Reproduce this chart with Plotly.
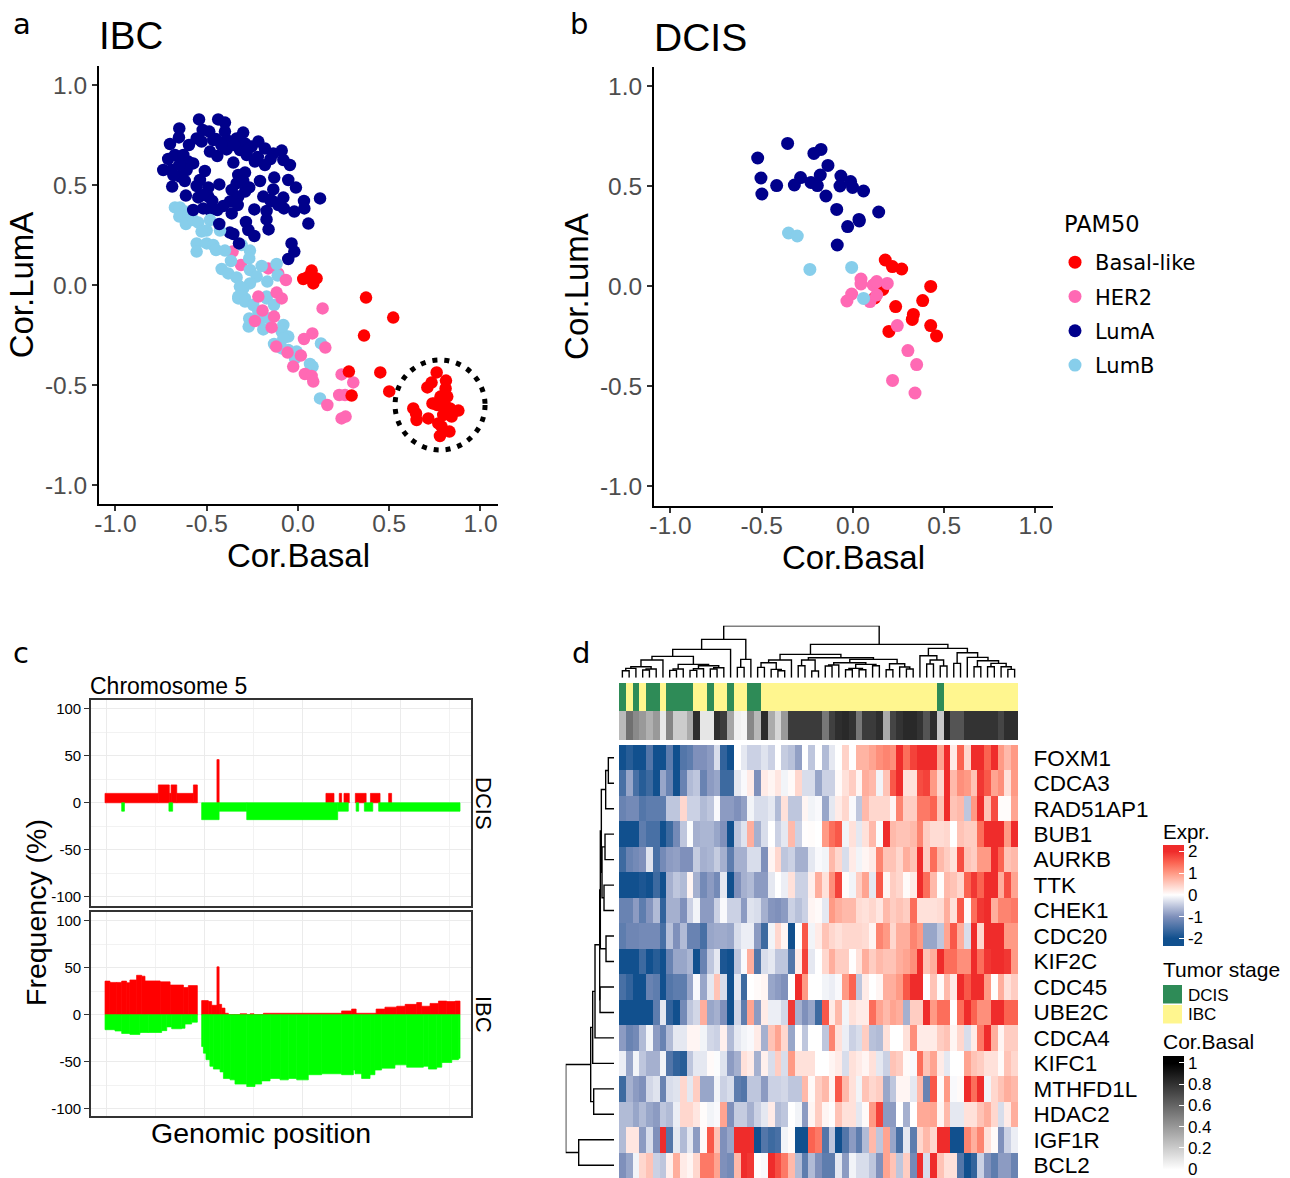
import plotly.graph_objects as go

W, H = 1290, 1178
SANS = "Liberation Sans"
DEJA = "DejaVu Sans"

# ---------- Panel a (IBC) ----------
a_luma_x = [-.542,-.437,-.400,-.650,-.652,-.701,-.597,-.522,-.486,-.555,-.528,-.464,-.400,-.391,-.300,-.336,-.290,-.217,-.254,-.181,-.089,-.135,-.482,-.442,-.391,-.318,-.281,-.236,-.181,-.080,-.044,-.354,-.711,-.674,-.628,-.601,-.574,-.738,-.692,-.647,-.683,-.610,-.510,-.537,-.555,-.689,-.290,-.327,-.336,-.208,-.130,-.053,-.011,-.431,-.363,-.267,-.290,-.491,-.614,-.546,-.491,-.327,-.373,-.409,-.442,-.363,-.519,-.482,-.190,-.135,-.153,-.080,-.108,-.077,-.020,.033,.035,.121,-.239,-.172,-.172,-.285,-.272,-.239,-.161,.057,-.373,-.354,-.035,-.020,-.053,-.45,-.42,-.35,-.28,-.22,-.15,-.65,-.62,-.52,-.47,-.30,-.33,-.14,-.574,-.431,-.323]
a_luma_y = [.828,.828,.812,.783,.738,.705,.700,.775,.767,.733,.717,.725,.767,.725,.762,.733,.708,.717,.692,.683,.672,.658,.667,.645,.678,.675,.650,.617,.600,.625,.600,.612,.630,.650,.650,.617,.608,.575,.575,.542,.550,.575,.570,.525,.495,.492,.562,.550,.508,.520,.537,.525,.487,.503,.475,.488,.467,.488,.447,.438,.442,.442,.417,.395,.375,.358,.383,.375,.442,.478,.425,.437,.400,.383,.367,.420,.383,.433,.378,.370,.328,.315,.275,.245,.278,.307,.262,.255,.208,.167,.130,.73,.70,.70,.67,.64,.63,.60,.52,.45,.42,.52,.40,.42,.375,.305,.208]
a_lumb_x = [-.674,-.647,-.619,-.650,-.601,-.614,-.574,-.546,-.482,-.500,-.528,-.427,-.555,-.500,-.464,-.555,-.449,-.400,-.367,-.263,-.267,-.309,-.418,-.382,-.336,-.263,-.199,-.117,-.111,-.168,-.226,-.263,-.300,-.327,-.172,-.290,-.318,-.327,-.290,-.245,-.217,-.267,-.208,-.270,-.190,-.172,-.131,-.163,-.080,-.089,-.053,-.080,-.131,.126,-.007,-.016,.066,.080,.121,-.053,-.089]
a_lumb_y = [.388,.388,.367,.342,.350,.305,.325,.312,.325,.272,.267,.272,.208,.208,.200,.167,.175,.172,.120,.172,.133,.200,.080,.058,.038,.075,.095,.105,.047,.017,.042,.008,-.017,-.067,-.058,-.067,-.008,-.058,-.083,-.100,-.133,-.167,-.175,-.208,-.222,-.067,-.100,-.167,-.200,-.233,-.258,-.267,-.295,-.292,-.333,-.367,-.395,-.408,-.567,-.325,-.317]
a_her2_x = [-.358,-.312,-.163,-.108,-.066,-.217,-.117,-.089,.135,-.194,-.131,-.236,-.144,.079,.033,.150,-.119,-.057,.016,-.026,.038,.075,.084,.239,.303,.226,.258,.161,.239,.261]
a_her2_y = [.167,.100,.083,.058,.025,-.058,-.038,-.067,-.117,-.128,-.158,-.180,-.212,-.242,-.270,-.313,-.308,-.338,-.353,-.408,-.445,-.455,-.483,-.447,-.487,-.550,-.550,-.600,-.667,-.658]
a_basal_x = [.075,.029,.084,.102,.057,.373,.522,.362,.279,.451,.294,.500,.760,.811,.732,.709,.809,.781,.818,.737,.763,.805,.833,.879,.632,.647,.650,.714,.842,.796,.769,.787,.830,.778,.750,.796]
a_basal_y = [.072,.030,.008,.033,.042,-.063,-.163,-.253,-.433,-.437,-.553,-.532,-.437,-.478,-.488,-.512,-.517,-.558,-.558,-.592,-.600,-.600,-.617,-.628,-.617,-.642,-.675,-.667,-.658,-.650,-.692,-.708,-.733,-.755,-.592,-.575]

# ---------- Panel b (DCIS) ----------
b_luma_x = [-.358,-.522,-.214,-.175,-.137,-.504,-.499,-.418,-.321,-.287,-.230,-.195,-.179,-.148,-.066,-.071,-.013,-.002,.058,-.089,.141,.033,.035,-.029,-.086]
b_luma_y = [.713,.640,.663,.683,.603,.540,.460,.502,.505,.542,.518,.502,.555,.450,.550,.500,.522,.493,.475,.383,.370,.333,.325,.297,.205]
b_lumb_x = [-.353,-.305,-.236,-.007,.058]
b_lumb_y = [.265,.250,.083,.093,-.062]
b_her2_x = [.044,.044,.111,.130,.188,-.007,-.033,.093,.130,.243,.301,.349,.217,.340]
b_her2_y = [.035,.010,.005,.022,.013,-.040,-.075,-.078,-.045,-.198,-.323,-.393,-.472,-.535]
b_basal_x = [.177,.216,.267,.426,.163,.119,.382,.234,.331,.325,.197,.426,.458]
b_basal_y = [.130,.097,.085,-.002,-.017,-.060,-.073,-.103,-.142,-.167,-.227,-.198,-.250]

# ---------- Panel c (Chromosome 5, Mb and % of samples) ----------
dcis_gain_start = [-.5,26.7,32.3,33.2,36.1,44.6,56.6,112.2,119,121.4,127.2,134.9,144.2]
dcis_gain_end   = [26.7,32.3,33.2,36.1,44.6,46.6,57.7,116.3,120.2,124.1,132.7,139.8,145.7]
dcis_gain_val   = [10,19,10,19,10,19,46,10,10,10,10,10,10]
dcis_loss_start = [8,32.1,48.8,57.7,71.8,118.2,127.6,131.8,139.1]
dcis_loss_end   = [9.4,34,57.7,71.8,118.2,123.6,128.9,136.1,180.6]
dcis_loss_val   = [-9,-9,-18,-9,-18,-9,-9,-9,-9]

ibc_gain_p_edges = [-.5,2,5.4,8,10.5,12.2,15.6,18.2,19.9,27.6,32.7,39.5,42,46.6]
ibc_gain_p_val   = [35.8,34.4,34.4,35.8,34,37,42,41,36,35,31.6,29,31]
ibc_gain_q_edges = [48.8,52.2,53.9,56.6,57.7,59,60.7,62.4,68.4,71.8,73.5,75.5,80.3,120.2,125.3,127.6,137.8,142.3,148.3,152.6,158.5,161,165.3,169.6,173.8,178.1,180.6]
ibc_gain_q_val   = [15,14,10,51,11,7,1.5,0,1,0,1,0,1.5,4,6,1.5,6,8,9,11,13,9,12,14.5,14,14.5]
ibc_loss_p_edges = [-.5,4.6,8,12.2,17.3,21.6,28.4,31,33.5,38.6,40.3,43.7,46.6]
ibc_loss_p_val   = [-16,-17.4,-20,-21,-19,-19,-17,-13,-15,-14.5,-10,-8]
ibc_loss_q_edges = [48.8,49.7,51,53,54.8,58.2,59.9,63.3,65.8,71.8,76,79.4,83.7,88.8,93,97.3,103.2,110,120.2,126.2,127,130.4,134.7,137.2,140.6,147.4,153.4,161.9,164.5,168.7,171.3,176.4,179.8,180.6]
ibc_loss_q_val   = [-34,-41,-48,-55,-58,-61,-68,-69.5,-74,-76.6,-74,-70.6,-68,-69.5,-68,-69.5,-64,-63,-64,-59,-63,-68,-64,-59,-57,-53.5,-56,-55,-58,-56,-51,-48,-46.5]

# ---------- Panel d ----------
genes = ["FOXM1","CDCA3","RAD51AP1","BUB1","AURKB","TTK","CHEK1","CDC20","KIF2C","CDC45","UBE2C","CDCA4","KIFC1","MTHFD1L","HDAC2","IGF1R","BCL2"]
expr = [
 [-2,-1.8,-2,-2,-1.4,-2,-2,-1.3,-2,-1.4,-1.3,-1,-1,-.9,-.3,-1.7,-2,0,-.2,-.4,-.4,-.25,-.4,0,-.45,-.55,-.85,0,-.5,0,-.6,-.2,0,.45,0,.75,.75,.9,1.1,1.2,1.1,2,1.4,1.8,2,2,2,.9,2,.2,1.5,.4,2,2,1.5,2,1,.7,1],
 [-1.5,-.8,-1.5,-1.8,-1.6,-2,-.8,-1.2,-2,-1.2,-.6,-.5,-1.2,-.9,-.8,-1.6,-1.6,-.2,-.05,.2,-1,.2,.1,.25,-.1,.05,.4,-.3,-.3,-.8,-.4,-.4,.05,.3,.5,.1,.8,.7,-.1,.6,1.6,2,.3,.3,1.7,1.8,1,.4,2,.7,1.1,1,.6,1.9,1.6,.9,1.1,.3,1],
 [-1.2,-1.1,-1.1,-1.4,-1.3,-1.3,-1.3,-.5,-.5,.4,-.4,-.4,-.6,-.5,-.05,-.9,-.9,-1,-.85,-.1,-.3,-.3,-.2,-.6,.3,-.5,-.5,.1,-.1,-.05,-.8,-.2,.2,.4,-.05,-.5,.7,.4,.4,.4,.1,1.2,.5,.5,1.3,1.3,1.5,.6,2,.6,.7,-.5,1,2,.6,1.7,.03,.03,.9],
 [-2,-2,-2,-1.3,-1.5,-1.5,-2,-1.6,-1.1,-.5,-.03,-.7,-.65,-.65,-.8,-1,-2,-.5,-.25,.8,-.7,-.3,0,-.4,-.2,.7,-.4,.02,.03,0,1,1.4,1.6,-.1,.3,-.2,.3,.7,-.03,2,.7,.6,.6,.7,1.2,.5,.35,.35,.4,0,.6,.5,.5,1.4,2,2,2,1,2],
 [-1.6,-1.2,-1.1,-1,-.25,-1.5,-1.1,-.9,-.85,-1,-1,-.45,-.7,-.65,-.45,-.7,-1.3,-.7,-.7,-.3,-.3,-1,.1,.4,-.5,-.4,-.7,-.7,-.2,-.05,-.1,.7,.4,-.3,.2,-.1,.1,.2,1.2,.6,.6,.4,.8,.6,2,.5,1.4,.7,.5,.3,1.7,.6,.5,1,1,2,1.5,.6,.7],
 [-2,-2,-2,-1.9,-2,-1.6,-2,-.7,-.5,-.6,.1,-.7,-1.1,-.9,-1.1,-.2,-2,-1,-.7,-.6,-.9,-.9,-.2,0,-.15,.3,-.4,-.4,.15,.8,.3,1.1,1.8,.03,-.1,.5,.9,-.2,1.6,.1,.5,.4,.05,.2,2,1.4,.7,.03,.7,.6,.4,1.5,1.9,1.5,2,2,.8,1.7,.9],
 [-1.2,-1.2,-.9,-1.3,-.95,-.6,-1.7,-.7,-.7,-1,-.4,-.1,-.9,-.9,-.4,-.05,-.4,-.4,-.9,-.25,-.3,-.7,-.95,-1,-.9,-.4,-.55,-.4,.1,.05,-.2,1,.8,.7,.7,.35,.3,.4,.25,.7,.5,.6,.5,1.4,.3,.3,.3,.35,.8,.3,1.6,.05,1.4,1.9,2,.8,1.2,1.2,1.3],
 [-1.3,-1.15,-1.15,-1.1,-1.1,-1.1,-1.5,-.55,-1,-.6,-1.2,-1.2,-1.5,-.8,-.75,-.75,-.8,-.3,-.15,-.15,-.9,-1.6,-.1,.4,.1,-2,0,1.6,-.1,.2,.6,.4,.3,.4,.4,.4,.35,.1,1.2,1,.4,.8,.8,1.2,1,-.8,-.8,-.5,.9,1.6,.8,-.3,2,.4,2,2,2,1,1],
 [-2,-2,-2,-1.6,-2,-1.8,-2,-1.2,-.8,-.8,-.65,-2,-1.2,-.5,-.2,-1.9,-2,-.5,-.05,.8,-1.4,-.3,-.2,-.5,-.5,-1.4,.2,1.8,-.2,0,.4,.8,.5,.5,.01,.3,.8,.5,.7,.6,.6,.8,.9,1.1,2,.6,.8,2,1.4,1.4,1.1,1.1,2,1.4,1.9,2,2,1.9,1],
 [-1.5,-1.7,-2,-2,-1.2,-1.3,-2,-1.4,-1.3,-1.3,-.8,-.05,-.8,-.2,.6,-.3,-2,-.2,-1.6,0,.05,.1,-.8,-.9,-1,0,2,1,0,0,-.1,-.15,-.05,1,1.5,-.5,.2,0,.1,.8,.8,1,1.6,2,2,0,.6,.05,.7,.2,2,1.6,2,2,1,.02,.8,.3,.5],
 [-2,-2,-2,-2,-2,-1.3,-.2,-1.7,-2,-1.1,-.5,-.35,.8,-.8,-.7,-1,-2,-.35,-1.3,.9,-.9,.2,-.15,-.15,-.35,1.9,-.7,-1,-.8,-1.6,1.6,.2,.7,-.1,.3,.2,.2,1.4,.9,.7,.9,.8,-.7,.5,.5,2,1,1.4,1.4,0,1.4,2,1.5,1.1,1.1,2,2,1.5,1.5],
 [-.9,-1.2,-1.1,-.6,-.1,-.9,-1.2,-.6,-.2,-.2,.1,.1,-.1,-.35,-.4,.15,-.6,-.2,-.1,-.05,.2,-.7,.6,.9,.4,-.8,.02,-.5,0,0,-.5,1.2,.3,-.15,-.4,-.3,.5,-.55,-.6,.3,0,0,.3,1.1,.2,.2,.2,.5,.6,.1,.4,-.3,.2,1.3,2,.8,.1,.5,.5],
 [-.15,-.8,-.1,-.5,-.7,-.7,-.1,-1.4,-1.7,-1.8,-.5,-.2,-.2,.05,-.03,-.25,-.9,-.7,.3,.2,-.7,.15,-.3,.5,-.3,1,.3,.3,.3,0,0,.1,.2,-.3,.3,.2,.1,.3,-.2,-.4,.6,.5,.05,-.05,1.4,.6,.9,.2,-.2,0,0,.9,.6,.5,.3,.3,.05,.6,.4],
 [-1.6,-.7,-.9,-1,-.35,-.25,-1.2,-.3,-.25,.4,-.2,.5,-.8,-.8,-.1,-.4,-.3,-1.3,-1.4,-.5,-.5,-.9,-.4,-.4,-.35,-.5,-.5,.7,.05,.5,.7,.1,1.6,.7,.3,-.1,.6,.4,.5,-.8,-.5,.1,.1,-.2,.7,-1.2,1.6,.05,1,-.05,.05,2,1.4,2,-.1,.4,.6,.8,.7],
 [-.6,-.6,-.8,-.6,-.8,-.9,-.5,-.6,-.15,.4,.4,.25,.03,-.1,-.05,.9,-1,-.45,-.45,-.7,-.4,-.2,.2,-.6,-.5,0,-.1,-.9,.1,.5,.1,.02,.6,.3,.3,-.2,.05,1,1.8,-.9,-.9,0,-.7,0,.85,.85,.9,.1,.7,-.2,-.2,.3,.3,.6,.8,.4,-.3,.2,.8],
 [-.6,.25,.25,-.9,-.3,-1,2,-1.4,-.2,-.6,-.2,-.9,.05,1.6,.6,-1,-.8,2,2,2,-2,-1.4,-1.6,-1.5,-.1,.03,-2,-2,1.5,1.3,-1.4,-.5,-2,-1.4,-.9,-1.3,-.6,.7,-.5,.9,-.8,-1.5,-.2,-1.3,.4,.7,.4,2,2,-2,-2,1.2,.8,1.2,.3,.05,-1,-.4,-.15],
 [-1,-.8,-.1,.4,.6,-.4,-.5,.15,.8,.2,.1,.4,1.3,1.3,.9,-1,-1.1,.7,2,1.9,.02,-.05,2,1.7,1.3,.7,-.6,-1.3,-.6,-1,-1.3,-1.3,-.2,-.9,-.1,-.3,-.3,-.5,-1,.9,.6,-.5,.5,-1.1,2,-.3,2,.6,.3,.3,-1.4,-2,-1.7,-.4,-1,-1.3,-.9,-.9,-1.2],
]
# 0 = DCIS, 1 = IBC
stage = [0,1,0,1,0,0,1,0,0,0,0,1,1,0,1,1,0,1,1,0,0,1,1,1,1,1,1,1,1,1,1,1,1,1,1,1,1,1,1,1,1,1,1,1,1,1,1,0,1,1,1,1,1,1,1,1,1,1,1]
cor_basal = [.27,.56,.46,.4,.31,.4,.09,.48,.2,.2,.33,.82,.1,.1,.82,.76,.35,.06,.04,.47,.28,.83,.33,.16,.4,.77,.77,.77,.77,.77,.53,.75,.82,.84,.8,.53,.77,.77,.82,.33,.73,.8,.84,.84,.8,.67,.82,.22,.87,.67,.67,.8,.8,.8,.8,.8,.73,.82,.82]

# dendrograms as nested (height, left, right); integers are leaves
col_tree = (156,
  (115,
    (85,
      (64,
        (53,(33,(28,(21,0,1),2),(26,(23,3,4),5)),6),
        (40,(26,(22,7,8),9),(36,(27,(22,10,11),12),(30,(26,13,14),15)))),
      16),
    (55,(31,17,18),19)),
  (100,
    (70,
      (53,(45,(31,20,21),(25,22,(21,23,24))),25),
      (60,(53,(36,26,27),(20,28,29)),
          (55,(45,(38,(35,30,31),32),(40,(28,(24,33,34),(24,35,36)),(36,37,38))),
              (42,(24,39,40),(32,41,(26,42,43)))))),
    (88,
      (66,44,(53,(41,45,46),(35,47,48))),
      (75,(43,49,50),(61,51,(51,(33,52,53),(43,(33,54,55),(33,56,(25,57,58)))))))))
row_tree = (145,
  (70,
    (64,
      (57,
        (43,(41,(38,(25,(17,0,1),2),(36,(27,3,4),(30,5,6))),(24,7,8)),(42,9,10)),
        11),
      12),
    (61,13,14)),
  (106,15,16))

for name, row in zip(genes, expr):
    if len(row) != 59:
        raise ValueError(f"{name} has {len(row)}")
if len(stage) != 59 or len(cor_basal) != 59:
    raise ValueError(f"{len(stage)} {len(cor_basal)}")


def dx(a, b):
    return [a / W, b / W]


def dy(top, bot):
    return [1 - bot / H, 1 - top / H]


def tree_lines(node, pos, hts):
    if isinstance(node, int):
        return node, 0
    h, left, right = node
    pl, hl = tree_lines(left, pos, hts)
    pr, hr = tree_lines(right, pos, hts)
    pos += [pl, pl, pr, pr, None]
    hts += [hl, h, h, hr, None]
    return (pl + pr) / 2, h


def bars_from_edges(edges, vals):
    centers = [(edges[i] + edges[i + 1]) / 2 for i in range(len(vals))]
    widths = [edges[i + 1] - edges[i] for i in range(len(vals))]
    return centers, widths, vals


fig = go.Figure()
CB = {"Basal-like": "#FF0000", "HER2": "#FF69B4", "LumA": "#00008B", "LumB": "#87CEEB"}


def pts(x, y, name, xa, ya, legend=False, size=12.5):
    fig.add_trace(go.Scatter(x=x, y=y, mode="markers", name=name, xaxis=xa, yaxis=ya,
                             marker=dict(color=CB[name], size=size, line=dict(width=0)),
                             showlegend=legend, legendgroup=name if legend else None,
                             hoverinfo="skip"))


# Panel a, layered in the order the reference overlaps
pts(a_luma_x[:-3], a_luma_y[:-3], "LumA", "x", "y")
pts(a_her2_x[:4], a_her2_y[:4], "HER2", "x", "y")
pts(a_lumb_x, a_lumb_y, "LumB", "x", "y")
pts(a_luma_x[-3:], a_luma_y[-3:], "LumA", "x", "y")
pts(a_her2_x[4:], a_her2_y[4:], "HER2", "x", "y")
pts(a_basal_x, a_basal_y, "Basal-like", "x", "y")

# Panel b
pts(b_basal_x, b_basal_y, "Basal-like", "x2", "y2", True, 13)
pts(b_her2_x, b_her2_y, "HER2", "x2", "y2", True, 13)
pts(b_luma_x, b_luma_y, "LumA", "x2", "y2", True, 13)
pts(b_lumb_x, b_lumb_y, "LumB", "x2", "y2", True, 13)


# Panel c
def bars(c, w, v, color, xa, ya):
    fig.add_trace(go.Bar(x=c, y=v, width=w, xaxis=xa, yaxis=ya, showlegend=False,
                         marker=dict(color=color, line=dict(width=.7, color=color)), hoverinfo="skip"))


bars([(s + e) / 2 for s, e in zip(dcis_gain_start, dcis_gain_end)],
     [e - s for s, e in zip(dcis_gain_start, dcis_gain_end)], dcis_gain_val, "#FF0000", "x3", "y3")
bars([(s + e) / 2 for s, e in zip(dcis_loss_start, dcis_loss_end)],
     [e - s for s, e in zip(dcis_loss_start, dcis_loss_end)], dcis_loss_val, "#00FF00", "x3", "y3")
for e, v, col in [(ibc_gain_p_edges, ibc_gain_p_val, "#FF0000"), (ibc_gain_q_edges, ibc_gain_q_val, "#FF0000"),
                  (ibc_loss_p_edges, ibc_loss_p_val, "#00FF00"), (ibc_loss_q_edges, ibc_loss_q_val, "#00FF00")]:
    c, w, vv = bars_from_edges(e, v)
    bars(c, w, vv, col, "x4", "y4")

# Panel d heatmaps
rng_lo, rng_hi = -2.35, 2.3


def stop(v):
    return (v - rng_lo) / (rng_hi - rng_lo)


expr_scale = [[0, "#11508E"], [stop(-2), "#11508E"], [stop(-1), "#7F90BB"], [stop(-.5), "#BEC6DD"], [stop(0), "#FFFFFF"],
              [stop(.5), "#FFCDC2"], [stop(1), "#FF9A85"], [stop(1.5), "#FB6351"], [stop(2), "#EF2C2B"], [1, "#EF2C2B"]]
fig.add_trace(go.Heatmap(z=expr, y=genes, x=list(range(59)), xaxis="x5", yaxis="y5", zmin=rng_lo, zmax=rng_hi,
                         colorscale=expr_scale, hoverinfo="skip",
                         colorbar=dict(x=1163 / W, xanchor="left", y=1 - 845 / H, yanchor="top",
                                       lenmode="pixels", len=100.7, thickness=21, thicknessmode="pixels",
                                       xpad=0, ypad=0, outlinewidth=0, ticks="inside", tickcolor="white", ticklen=5,
                                       tickvals=[2, 1, 0, -1, -2], ticktext=["2", "1", "0", "-1", "-2"],
                                       ticklabeloverflow="allow",
                                       tickfont=dict(family=SANS, size=17, color="black"))))
fig.add_trace(go.Heatmap(z=[stage], x=list(range(59)), xaxis="x6", yaxis="y6", zmin=0, zmax=1, showscale=False,
                         colorscale=[[0, "#2E8B57"], [.5, "#2E8B57"], [.5, "#FFF68F"], [1, "#FFF68F"]], hoverinfo="skip"))
bas_lo, bas_hi = -.07, 1.07
fig.add_trace(go.Heatmap(z=[cor_basal], x=list(range(59)), xaxis="x7", yaxis="y7", zmin=bas_lo, zmax=bas_hi,
                         colorscale=[[0, "#FFFFFF"], [(0 - bas_lo) / (bas_hi - bas_lo), "#FFFFFF"],
                                     [(1 - bas_lo) / (bas_hi - bas_lo), "#000000"], [1, "#000000"]],
                         hoverinfo="skip",
                         colorbar=dict(x=1163 / W, xanchor="left", y=1 - 1055.5 / H, yanchor="top",
                                       lenmode="pixels", len=120.5, thickness=21, thicknessmode="pixels",
                                       xpad=0, ypad=0, outlinewidth=0, ticks="inside", tickcolor="white", ticklen=5,
                                       tickvals=[1, .8, .6, .4, .2, 0], ticktext=["1", "0.8", "0.6", "0.4", "0.2", "0"],
                                       ticklabeloverflow="allow",
                                       tickfont=dict(family=SANS, size=17, color="black"))))

p, h = [], []
tree_lines(col_tree, p, h)
fig.add_trace(go.Scatter(x=p, y=h, mode="lines", line=dict(color="black", width=1.4), xaxis="x8", yaxis="y8",
                         showlegend=False, hoverinfo="skip"))
p, h = [], []
tree_lines(row_tree, p, h)
fig.add_trace(go.Scatter(x=h, y=p, mode="lines", line=dict(color="black", width=1.4), xaxis="x9", yaxis="y9",
                         showlegend=False, hoverinfo="skip"))

tv = [-1, -.5, 0, .5, 1]
tt = ["-1.0", "-0.5", "0.0", "0.5", "1.0"]


def scatter_x(dom, rng, anchor):
    return dict(domain=dom, range=rng, anchor=anchor, showline=True, linecolor="black", linewidth=2, ticks="outside",
                ticklen=5, tickwidth=1.5, tickcolor="#333333", tickvals=tv, ticktext=tt, showgrid=False, zeroline=False,
                automargin=False, ticklabelstandoff=-8,
                tickfont=dict(family=SANS, size=24.5, color="#4D4D4D"),
                title=dict(text="Cor.Basal", font=dict(family=SANS, size=33, color="black"), standoff=5))


def scatter_y(dom, rng, anchor, standoff):
    return dict(domain=dom, range=rng, anchor=anchor, showline=True, linecolor="black", linewidth=2, ticks="outside",
                ticklen=5, tickwidth=1.5, tickcolor="#333333", tickvals=tv, ticktext=tt, showgrid=False, zeroline=False,
                automargin=False,
                tickfont=dict(family=SANS, size=24.5, color="#4D4D4D"),
                title=dict(text="Cor.LumA", font=dict(family=SANS, size=33, color="black"), standoff=standoff))


GRID = "#EBEBEB"


def c_x(dom, anchor):
    return dict(domain=dom, range=[-7.65, 186.2], anchor=anchor, showline=True, mirror=True, linecolor="#333333", linewidth=1.6,
                tick0=0, dtick=50, showticklabels=False, ticks="", showgrid=True, gridcolor=GRID, gridwidth=1.4, automargin=False,
                minor=dict(tick0=0, dtick=25, showgrid=True, gridcolor="#F2F2F2", gridwidth=.8), zeroline=False)


def c_y(dom, rng, anchor):
    return dict(domain=dom, range=rng, anchor=anchor, showline=True, mirror=True, linecolor="#333333", linewidth=1.6,
                tickvals=[100, 50, 0, -50, -100], ticktext=["100", "50", "0", "-50", "-100"], ticks="outside", ticklen=5,
                tickwidth=1.3, tickcolor="#333333", tickfont=dict(family=SANS, size=15, color="black"), showgrid=True,
                gridcolor=GRID, gridwidth=1.4, zeroline=False, automargin=False,
                minor=dict(tick0=0, dtick=25, showgrid=True, gridcolor="#F2F2F2", gridwidth=.8))


hidden = dict(visible=False, showgrid=False, zeroline=False)
hx = dx(619, 1018)


def note(text, x, y, size, family=SANS, angle=0, anchor="left", color="black"):
    return dict(text=text, x=x / W, y=1 - y / H, xref="paper", yref="paper", xanchor=anchor, yanchor="middle",
                showarrow=False, textangle=angle, font=dict(family=family, size=size, color=color))


annotations = [
    note("a", 11, 24, 29, DEJA), note("b", 568, 24, 29, DEJA), note("c", 11, 653, 29, DEJA), note("d", 570, 653, 29, DEJA),
    note("IBC", 97, 36, 38.5), note("DCIS", 652, 37, 39),
    note("Chromosome 5", 88, 686, 23),
    note("Frequency (%)", 36, 913, 28.5, angle=-90, anchor="center"),
    note("DCIS", 484, 803, 22, angle=90, anchor="center"),
    note("IBC", 484, 1014, 22, angle=90, anchor="center"),
    note("Genomic position", 261, 1133, 28.5, anchor="center"),
    note("Expr.", 1161, 831, 20.5), note("Tumor stage", 1161, 969.5, 21), note("Cor.Basal", 1161, 1041.5, 21),
    note("DCIS", 1186, 995, 17), note("IBC", 1186, 1014, 17),
    note("PAM50", 1062, 224, 22.5, DEJA),
]

shapes = [
    dict(type="circle", xref="x", yref="y", x0=.532, x1=1.025, y0=-.825, y1=-.375,
         line=dict(color="black", width=5, dash="5px,7px")),
    dict(type="rect", xref="paper", yref="paper", x0=1163 / W, x1=1182 / W, y0=1 - 1003.5 / H, y1=1 - 985 / H,
         fillcolor="#2E8B57", line=dict(width=0)),
    dict(type="rect", xref="paper", yref="paper", x0=1163 / W, x1=1182 / W, y0=1 - 1023.5 / H, y1=1 - 1005 / H,
         fillcolor="#FFF68F", line=dict(width=0)),
]

fig.update_layout(
    width=W, height=H, margin=dict(l=0, r=0, t=0, b=0, autoexpand=False), paper_bgcolor="white", plot_bgcolor="white",
    barmode="overlay", annotations=annotations, shapes=shapes,
    legend=dict(x=1055 / W, xanchor="left", y=1 - 242 / H, yanchor="top", tracegroupgap=4, itemwidth=30,
                bgcolor="rgba(0,0,0,0)", borderwidth=0,
                font=dict(family=DEJA, size=21, color="black")),
    xaxis=scatter_x(dx(99, 498), [-1.09, 1.096], "y"),
    yaxis=scatter_y(dy(66, 504), [-1.095, 1.095], "x", 1),
    xaxis2=scatter_x(dx(654, 1053), [-1.09, 1.096], "y2"),
    yaxis2=scatter_y(dy(67, 506), [-1.1, 1.095], "x2", 1),
    xaxis3=c_x(dx(91, 471), "y3"),
    yaxis3=c_y(dy(700, 906), [-110, 109.5], "x3"),
    xaxis4=c_x(dx(91, 471), "y4"),
    yaxis4=c_y(dy(911.7, 1115.7), [-107.7, 109.8], "x4"),
    xaxis5=dict(domain=hx, range=[-.5, 58.5], anchor="y5", **hidden),
    yaxis5=dict(domain=dy(745, 1178), anchor="x5", side="right", autorange="reversed", ticks="outside", ticklen=10,
                tickcolor="rgba(0,0,0,0)", showgrid=False, zeroline=False, showline=False, type="category",
                tickmode="array", tickvals=genes, ticktext=genes, automargin=False,
                tickfont=dict(family=SANS, size=22.5, color="black")),
    xaxis6=dict(domain=hx, range=[-.5, 58.5], anchor="y6", **hidden),
    yaxis6=dict(domain=dy(683, 711), anchor="x6", **hidden),
    xaxis7=dict(domain=hx, range=[-.5, 58.5], anchor="y7", **hidden),
    yaxis7=dict(domain=dy(711, 740), anchor="x7", **hidden),
    xaxis8=dict(domain=hx, range=[-.5, 58.5], anchor="y8", **hidden),
    yaxis8=dict(domain=dy(625.7, 677.7), range=[0, 156], anchor="x8", **hidden),
    xaxis9=dict(domain=dx(565.7, 614), range=[145, 0], anchor="y9", **hidden),
    yaxis9=dict(domain=dy(745, 1178), range=[16.5, -.5], anchor="x9", **hidden),
)

post = "document.body.style.margin='0';document.documentElement.style.overflow='hidden';"
fig.write_html("out.html", config={"displayModeBar": False}, post_script=post)
